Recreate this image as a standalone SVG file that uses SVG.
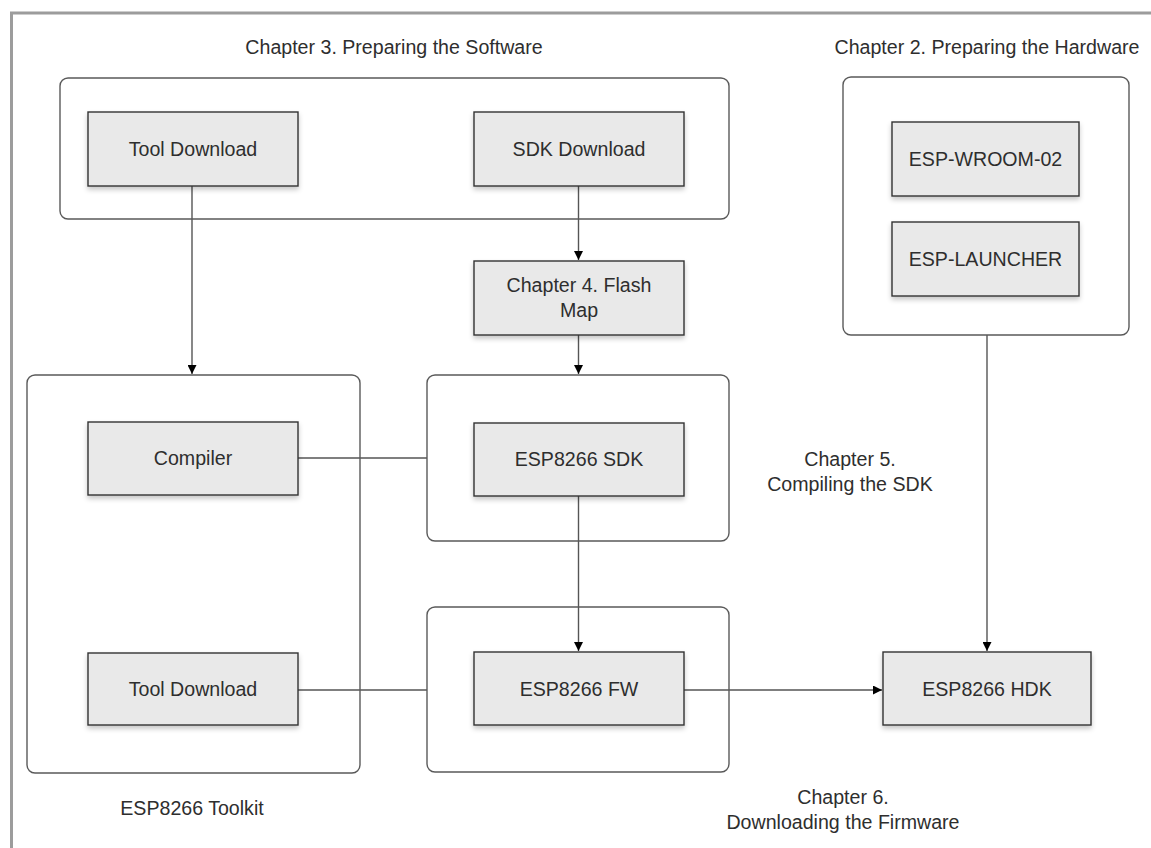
<svg xmlns="http://www.w3.org/2000/svg" width="1151" height="848" viewBox="0 0 1151 848">
<style>
.grp{fill:none;stroke:#5a5a5a;stroke-width:1.4}
.node{fill:#e9e9e9;stroke:#333;stroke-width:1.4;filter:url(#sh)}
.t{font-family:"Liberation Sans",Arial,sans-serif;font-size:19.6px;fill:#2e2e2e;text-anchor:middle}
.c{fill:none;stroke:#555;stroke-width:1.4}
</style>
<defs>
<filter id="sh" x="-10%" y="-10%" width="120%" height="140%">
<feDropShadow dx="0" dy="3" stdDeviation="2.5" flood-color="#000" flood-opacity="0.22"/>
</filter>
<marker id="ah" viewBox="0 0 10 10" refX="10" refY="5" markerWidth="9" markerHeight="9" markerUnits="userSpaceOnUse" orient="auto">
<path d="M0,0 L10,5 L0,10 z" fill="#000"/>
</marker>
</defs>
<rect width="1151" height="848" fill="#fff"/>
<rect x="11.5" y="13" width="1160" height="860" fill="none" stroke="#9c9c9c" stroke-width="3"/>

<g id="connectors">
<line class="c" x1="192" y1="186" x2="192" y2="374" marker-end="url(#ah)"/>
<line class="c" x1="578.5" y1="186" x2="578.5" y2="260" marker-end="url(#ah)"/>
<line class="c" x1="578.5" y1="335" x2="578.5" y2="374" marker-end="url(#ah)"/>
<line class="c" x1="298" y1="458" x2="427" y2="458"/>
<line class="c" x1="298" y1="690" x2="427" y2="690"/>
<line class="c" x1="578.5" y1="496" x2="578.5" y2="651" marker-end="url(#ah)"/>
<line class="c" x1="684" y1="690" x2="882" y2="690" marker-end="url(#ah)"/>
<line class="c" x1="987" y1="335" x2="987" y2="651" marker-end="url(#ah)"/>
</g>

<g id="ch3">
<text class="t" x="394" y="54">Chapter 3. Preparing the Software</text>
<rect class="grp" x="60" y="78" width="669" height="141" rx="8"/>
</g>
<g id="tool-download-1">
<rect class="node" x="88" y="112" width="210" height="74"/>
<text class="t" x="193" y="156">Tool Download</text>
</g>
<g id="sdk-download">
<rect class="node" x="474" y="112" width="210" height="74"/>
<text class="t" x="579" y="156">SDK Download</text>
</g>

<g id="ch2">
<text class="t" x="987" y="54">Chapter 2. Preparing the Hardware</text>
<rect class="grp" x="843" y="77" width="286" height="258" rx="8"/>
</g>
<g id="esp-wroom">
<rect class="node" x="892" y="122" width="187" height="74"/>
<text class="t" x="985.5" y="166">ESP-WROOM-02</text>
</g>
<g id="esp-launcher">
<rect class="node" x="892" y="222" width="187" height="74"/>
<text class="t" x="985.5" y="266">ESP-LAUNCHER</text>
</g>

<g id="flash-map">
<rect class="node" x="474" y="261" width="210" height="74"/>
<text class="t" x="579" y="292">Chapter 4. Flash</text>
<text class="t" x="579" y="317">Map</text>
</g>

<g id="toolkit">
<rect class="grp" x="27" y="375" width="333" height="398" rx="8"/>
<text class="t" x="192" y="815">ESP8266 Toolkit</text>
</g>
<g id="compiler">
<rect class="node" x="88" y="422" width="210" height="73"/>
<text class="t" x="193" y="465">Compiler</text>
</g>
<g id="tool-download-2">
<rect class="node" x="88" y="653" width="210" height="72"/>
<text class="t" x="193" y="696">Tool Download</text>
</g>

<g id="ch5">
<rect class="grp" x="427" y="375" width="302" height="166" rx="8"/>
<text class="t" x="850" y="466">Chapter 5.</text>
<text class="t" x="850" y="491">Compiling the SDK</text>
</g>
<g id="esp-sdk">
<rect class="node" x="474" y="423" width="210" height="73"/>
<text class="t" x="579" y="466">ESP8266 SDK</text>
</g>

<g id="ch6">
<rect class="grp" x="427" y="607" width="302" height="165" rx="8"/>
<text class="t" x="843" y="804">Chapter 6.</text>
<text class="t" x="843" y="829">Downloading the Firmware</text>
</g>
<g id="esp-fw">
<rect class="node" x="474" y="652" width="210" height="73"/>
<text class="t" x="579" y="696">ESP8266 FW</text>
</g>
<g id="esp-hdk">
<rect class="node" x="883" y="652" width="208" height="73"/>
<text class="t" x="987" y="696">ESP8266 HDK</text>
</g>
</svg>
